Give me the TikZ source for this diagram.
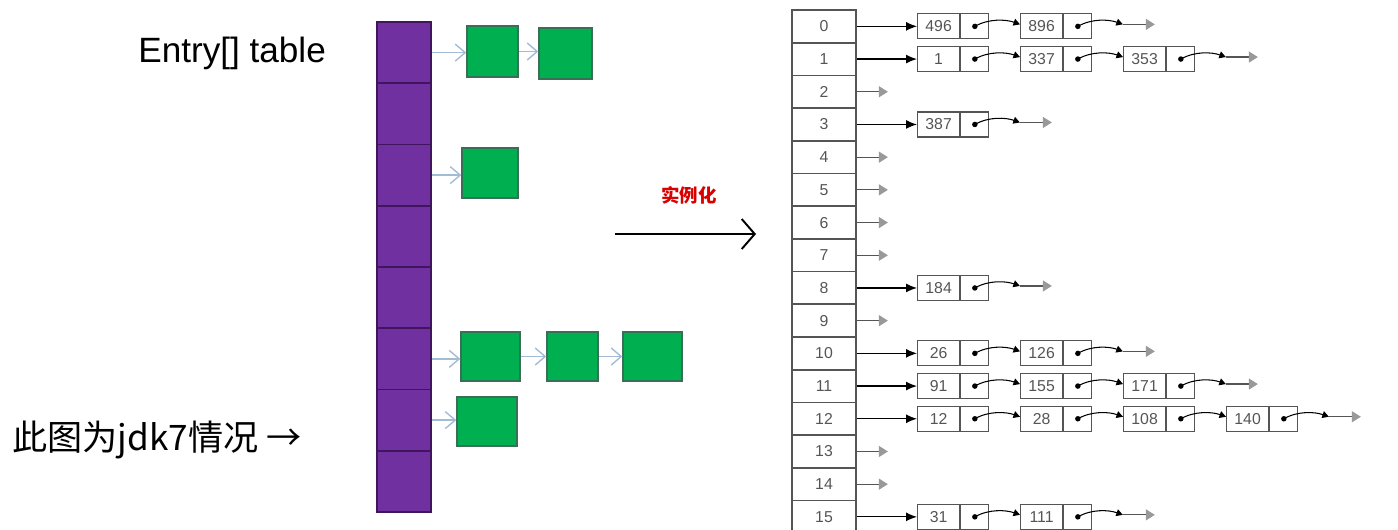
\documentclass[tikz,border=0pt]{standalone}
\usepackage{fontspec}
\setmainfont{Liberation Sans}
\newfontfamily\cjk{Noto Sans CJK SC}
\usetikzlibrary{positioning,calc,arrows.meta}

\definecolor{tabpurple}{HTML}{7030A0}
\definecolor{tabpurpleline}{HTML}{40155E}
\definecolor{nodegreen}{HTML}{00B050}
\definecolor{nodegreenline}{HTML}{3B6E57}
\definecolor{linkblue}{HTML}{A3BCD6}
\definecolor{boxgray}{HTML}{555555}
\definecolor{tipgray}{HTML}{999999}

\begin{document}
\begin{tikzpicture}[
    x=0.02cm, y=-0.02cm,
    every node/.style={font=\fontsize{9}{10}\selectfont, text=boxgray},
    cell/.style={draw=tabpurpleline, fill=tabpurple, line width=0.9pt,
        minimum width=1.08cm, minimum height=1.225cm, inner sep=0pt},
    entrybox/.style={draw=nodegreenline, fill=nodegreen, line width=0.8pt, inner sep=0pt},
    bluelink/.style={draw=linkblue, line width=0.8pt, -{Straight Barb[length=2mm,width=3.4mm]}},
    slot/.style={draw=boxgray, line width=1pt, minimum width=1.28cm,
        minimum height=0.654cm, inner sep=0pt},
    keybox/.style={draw=boxgray, line width=0.7pt, minimum width=0.84cm,
        minimum height=0.5cm, inner sep=0pt},
    ptrbox/.style={draw=boxgray, line width=0.7pt, minimum width=0.56cm,
        minimum height=0.5cm, inner sep=0pt},
    headarrow/.style={line width=0.7pt, -{Latex[length=2.2mm,width=1.8mm]}},
    nextlink/.style={line width=0.6pt, -{Triangle[length=1.3mm,width=1.4mm]}},
    nulllink/.style={draw=boxgray, line width=0.7pt,
        -{Triangle[length=1.8mm,width=2.2mm,color=tipgray]}}
]

\useasboundingbox (0,0) rectangle (1398,529);
\clip (0,0) rectangle (1398,529);

%======================
% Left: Entry[] table
%======================

\node[text=black, font=\fontsize{20}{24}\selectfont, anchor=base west, inner sep=0pt]
  (title) at (138,62) {Entry[] table};
\node[text=black, font=\cjk\fontsize{20}{24}\selectfont, anchor=west, inner sep=0pt]
  (note) at (12,440) {此图为jdk7情况 →};

\foreach \i in {0,...,7}
  \node[cell] (c\i) at (404, 52.6+61.25*\i) {};

% Entries
\node[entrybox, minimum width=1.02cm, minimum height=1.02cm] (g0a) at (492.5,51.5) {};
\node[entrybox, minimum width=1.06cm, minimum height=1.02cm] (g0b) at (565.5,53.5) {};
\node[entrybox, minimum width=1.12cm, minimum height=1.0cm]  (g2a) at (490,173) {};
\node[entrybox, minimum width=1.18cm, minimum height=0.98cm] (g5a) at (490.5,356.5) {};
\node[entrybox, minimum width=1.02cm, minimum height=0.98cm] (g5b) at (572.5,356.5) {};
\node[entrybox, minimum width=1.18cm, minimum height=0.98cm] (g5c) at (652.5,356.5) {};
\node[entrybox, minimum width=1.2cm,  minimum height=0.98cm] (g6a) at (487,421.5) {};

\draw[bluelink] (c0.east) -- (c0.east -| g0a.west);
\draw[bluelink] (g0a.east) -- (g0a.east -| g0b.west);
\draw[bluelink] (c2.east) -- (c2.east -| g2a.west);
\draw[bluelink] (c5.east) -- (c5.east -| g5a.west);
\draw[bluelink] (g5a) -- (g5b);
\draw[bluelink] (g5b) -- (g5c);
\draw[bluelink] (c6.east) -- (c6.east -| g6a.west);

%======================
% Middle arrow
%======================

\coordinate (mfrom) at (615,234);
\coordinate (mto)   at (756,234);
\draw[line width=1.1pt, -{Straight Barb[length=2.6mm,width=6mm]}] (mfrom) -- (mto);
\node[text=red!85!black, font=\cjk\bfseries\fontsize{10.5}{12}\selectfont]
  (inst) at (689,195) {实例化};

%======================
% Right: buckets
%======================

\foreach \i in {0,...,15}
  \node[slot] (s\i) at (824, 26.35+32.7*\i) {\i};

% Buckets with chained entries
\foreach \r/\n/\vals in {0/2/{496,896}, 1/3/{1,337,353}, 3/1/{387}, 8/1/{184},
    10/2/{26,126}, 11/3/{91,155,171}, 12/4/{12,28,108,140}, 15/2/{31,111}} {
  \foreach \v [count=\j from 0] in \vals {
    \node[keybox, anchor=west] (k\r-\j) at (917+103*\j, 26.35+32.7*\r) {\v};
    \node[ptrbox, right=0pt of k\r-\j] (p\r-\j) {};
    \fill (p\r-\j.center) circle (0.055cm);
    \ifnum\j>0
      \pgfmathtruncatemacro\q{\j-1}
      \draw[nextlink] (p\r-\q.center) .. controls +(14,-8) and +(-14,-5)
        .. ($(k\r-\j.west)+(0,-2)$);
    \fi
  }
  \draw[headarrow] (s\r.east) -- (k\r-0.west);
  % end of chain
  \pgfmathtruncatemacro\m{\n-1}
  \coordinate (t\r) at ($(p\r-\m.center)+(45,-2)$);
  \coordinate (e\r) at ($(t\r)+(32,0)$);
  \draw[nextlink] (p\r-\m.center) .. controls +(14,-8) and +(-14,-5) .. (t\r);
  \draw[nulllink] (t\r) -- (e\r);
}

% Empty buckets
\foreach \r in {2,4,5,6,7,9,13,14} {
  \coordinate (e\r) at ($(s\r.east)+(31,0)$);
  \draw[nulllink] (s\r.east) -- (e\r);
}

\end{tikzpicture}
\end{document}
